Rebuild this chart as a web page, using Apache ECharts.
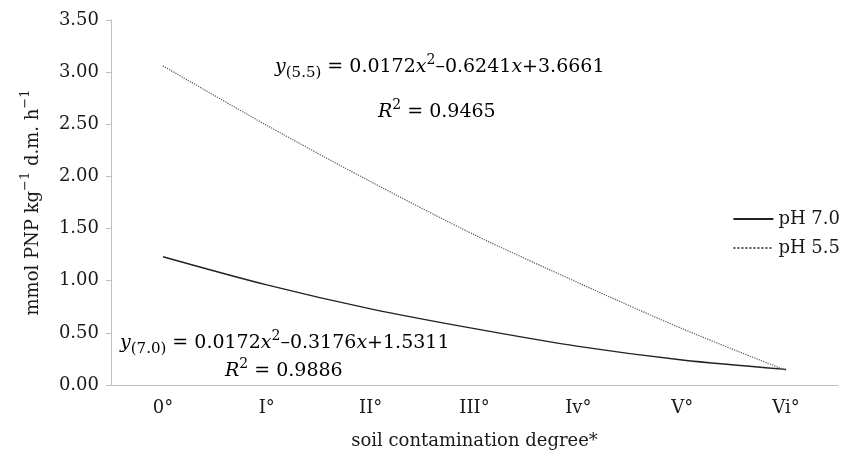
<!DOCTYPE html>
<html>
<head>
<meta charset="utf-8">
<script src="https://cdn.jsdelivr.net/npm/echarts@6/dist/echarts.min.js"></script>
<style>
  html, body { margin: 0; padding: 0; background: #fff; }
  #main { width: 848px; height: 455px; }
</style>
</head>
<body>
<div id="main"></div>
<script>
// soil contamination degrees
var degrees = ['0°', 'I°', 'II°', 'III°', 'Iv°', 'V°', 'Vi°'];
// values
var ph70 = [1.23, 0.96, 0.73, 0.54, 0.37, 0.24, 0.15];
var ph55 = [3.06, 2.49, 1.95, 1.44, 0.98, 0.54, 0.14];
var yTicks = [0, 0.5, 1, 1.5, 2, 2.5, 3, 3.5];

var font = 'DejaVu Serif';
var ink = '#1a1a1a';
var myChart = echarts.init(document.getElementById('main'));

// rich styles: line box of 28px, sup sits at top, sub at bottom
function richStyles(size) {
    return {
        m: { fontFamily: font, fontSize: size, lineHeight: 28, verticalAlign: 'middle', color: ink },
        i: { fontFamily: font, fontSize: size, lineHeight: 28, verticalAlign: 'middle', fontStyle: 'italic', color: ink },
        sup: { fontFamily: font, fontSize: size - 5, lineHeight: 28, verticalAlign: 'top', color: ink },
        sub: { fontFamily: font, fontSize: size - 4, lineHeight: 28, verticalAlign: 'bottom', color: ink }
    };
}

function label(x, y, text) {
    return {
        type: 'text',
        x: x,
        y: y,
        style: {
            text: text,
            rich: richStyles(19),
            align: 'left',
            verticalAlign: 'middle'
        }
    };
}

myChart.setOption({
    animation: false,
    grid: {
        left: 111,
        right: 10,
        top: 20,
        bottom: 63
    },
    legend: {
        orient: 'vertical',
        right: 3,
        top: 205,
        itemWidth: 40,
        itemHeight: 12,
        itemGap: 11,
        itemStyle: { opacity: 0 },
        textStyle: { fontFamily: font, fontSize: 18, color: ink },
        data: ['pH 7.0', 'pH 5.5']
    },
    xAxis: {
        type: 'category',
        data: degrees,
        name: 'soil contamination degree*',
        nameLocation: 'middle',
        nameGap: 47,
        nameTextStyle: { fontFamily: font, fontSize: 18, color: ink },
        axisLine: { lineStyle: { color: '#bfbfbf' } },
        axisTick: { lineStyle: { color: '#bfbfbf' }, length: 5 },
        axisLabel: { fontFamily: font, fontSize: 18, color: ink, margin: 14 }
    },
    yAxis: {
        type: 'value',
        min: yTicks[0],
        max: yTicks[yTicks.length - 1],
        interval: 0.5,
        name: '{m|mmol PNP kg}{sup|−1}{m| d.m. h}{sup|−1}',
        nameLocation: 'middle',
        nameRotate: 90,
        nameGap: 64,
        nameTextStyle: { rich: richStyles(18) },
        splitLine: { show: false },
        axisLine: { show: true, lineStyle: { color: '#bfbfbf' } },
        axisTick: { show: true, length: 5, lineStyle: { color: '#bfbfbf' } },
        axisLabel: {
            fontFamily: font, fontSize: 18, color: ink, margin: 12,
            formatter: function (v) { return v.toFixed(2); }
        }
    },
    graphic: [
        label(275, 67, '{i|y}{sub|(5.5)}{m| = 0.0172}{i|x}{sup|2}{m|–0.6241}{i|x}{m|+3.6661}'),
        label(378, 112, '{i|R}{sup|2}{m| = 0.9465}'),
        label(120, 343, '{i|y}{sub|(7.0)}{m| = 0.0172}{i|x}{sup|2}{m|–0.3176}{i|x}{m|+1.5311}'),
        label(225, 371, '{i|R}{sup|2}{m| = 0.9886}')
    ],
    series: [
        {
            name: 'pH 7.0',
            type: 'line',
            data: ph70,
            symbol: 'none',
            smooth: 0.3,
            color: '#222',
            lineStyle: { color: '#222', width: 1.4 }
        },
        {
            name: 'pH 5.5',
            type: 'line',
            data: ph55,
            symbol: 'none',
            smooth: 0.3,
            color: '#555',
            lineStyle: { color: '#555', width: 1.2, type: 'dotted' }
        }
    ]
});
</script>
</body>
</html>
